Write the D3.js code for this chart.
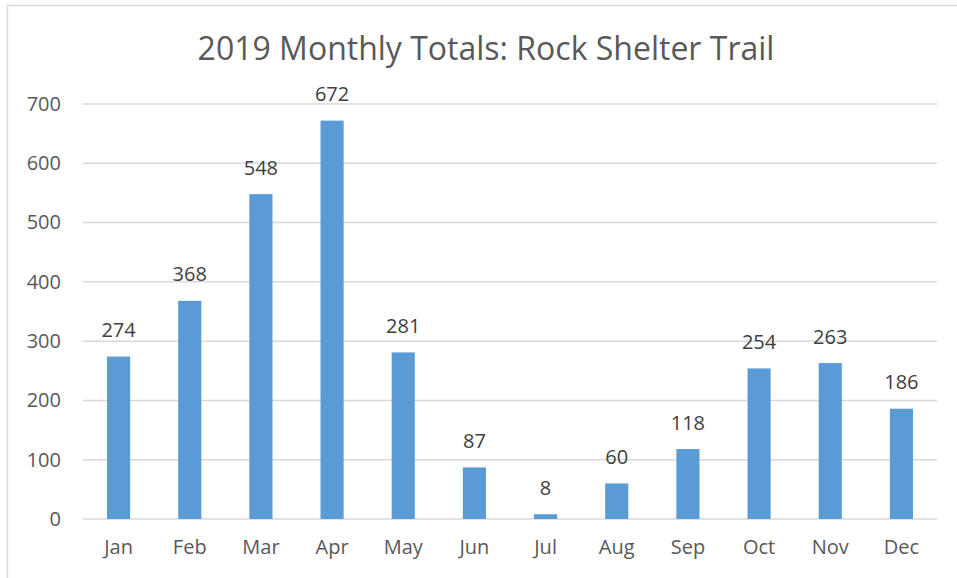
<!DOCTYPE html>
<html><head><meta charset="utf-8">
<script src="https://cdn.jsdelivr.net/npm/d3@7"></script>
<style>body{margin:0;background:#fff;} text{font-family:"Open Sans",sans-serif;}</style>
</head><body>
<svg id="c" width="957" height="578"></svg>
<script>
const months = ["Jan","Feb","Mar","Apr","May","Jun","Jul","Aug","Sep","Oct","Nov","Dec"];
const totals = [274,368,548,672,281,87,8,60,118,254,263,186];
const yTicks = [0,100,200,300,400,500,600,700];
const title = "2019 Monthly Totals: Rock Shelter Trail";
const FONT = "'Open Sans',sans-serif";

const svg = d3.select("#c");
svg.append("rect").attr("x",7.5).attr("y",5.5).attr("width",960).attr("height",600)
  .attr("fill","#fff").attr("stroke","#d9d9d9").attr("stroke-width",1.5);

const x = d3.scaleBand().domain(months).range([83,937]).paddingInner(0).paddingOuter(0);
const y = d3.scaleLinear().domain([0,700]).range([519,104]);

svg.append("text").attr("x",486).attr("y",60).attr("text-anchor","middle")
  .attr("font-size",32).attr("fill","#595959").text(title);

const grid = svg.append("g");
grid.selectAll("line").data(yTicks).join("line")
  .attr("x1",83).attr("x2",937).attr("y1",d=>y(d)).attr("y2",d=>y(d))
  .attr("stroke","#d9d9d9").attr("stroke-width",1.5);

const yAxis = d3.axisLeft(y).tickValues(yTicks).tickSize(0).tickPadding(0);
const ya = svg.append("g").attr("transform","translate(61,0)").call(yAxis);
ya.select(".domain").remove();
ya.selectAll("text").attr("font-size",20).attr("fill","#595959").attr("font-family",FONT);

const xAxis = d3.axisBottom(x).tickSize(0).tickPadding(0);
const xa = svg.append("g").attr("transform","translate(0,540)").call(xAxis);
xa.select(".domain").remove();
xa.selectAll("text").attr("font-size",20).attr("fill","#595959").attr("font-family",FONT);

const bw = x.bandwidth()*0.325;
svg.append("g").selectAll("rect").data(months).join("rect")
  .attr("x",(d)=>x(d)+x.bandwidth()/2-bw/2)
  .attr("width",bw)
  .attr("y",(d,i)=>y(totals[i]))
  .attr("height",(d,i)=>y(0)-y(totals[i]))
  .attr("fill","#5b9bd5");

svg.append("g").selectAll("text").data(months).join("text")
  .attr("x",d=>x(d)+x.bandwidth()/2)
  .attr("y",(d,i)=>y(totals[i])-19.5)
  .attr("text-anchor","middle").attr("font-size",20).attr("fill","#404040")
  .text((d,i)=>totals[i]);
</script>
</body></html>
